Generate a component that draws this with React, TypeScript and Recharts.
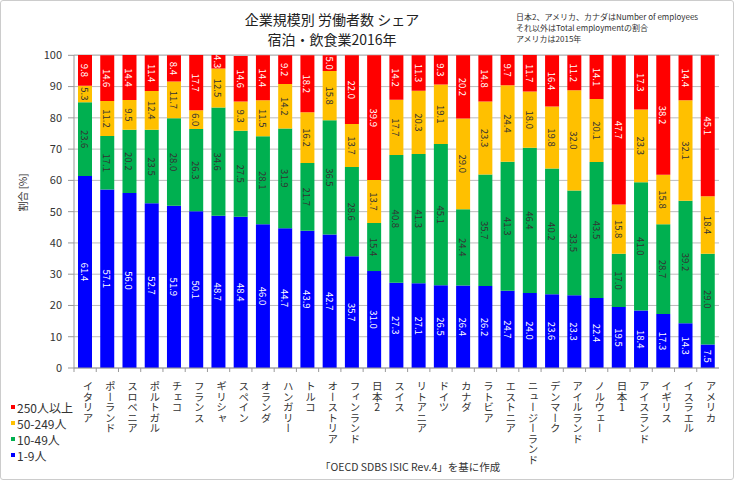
import React from 'react';
import { BarChart, Bar, XAxis, YAxis, CartesianGrid, LabelList } from 'recharts';

const countries = ['イタリア','ポーランド','スロベニア','ポルトガル','チェコ','フランス','ギリシャ','スペイン','オランダ','ハンガリー','トルコ','オーストリア','フィンランド','日本2','スイス','リトアニア','ドイツ','カナダ','ラトビア','エストニア','ニュージーランド','デンマーク','アイルランド','ノルウェー','日本1','アイスランド','イギリス','イスラエル','アメリカ'];
const s1to9 = [61.4,57.1,56.0,52.7,51.9,50.1,48.7,48.4,46.0,44.7,43.9,42.7,35.7,31.0,27.3,27.1,26.5,26.4,26.2,24.7,24.0,23.6,23.3,22.4,19.5,18.4,17.3,14.3,7.5];
const s10to49 = [23.6,17.1,20.2,23.5,28.0,26.3,34.6,27.5,28.1,31.9,21.7,36.5,28.6,15.4,40.8,41.3,45.1,24.4,35.7,41.3,46.4,40.2,33.5,43.5,17.0,41.0,28.7,39.2,29.0];
const s50to249 = [5.3,11.2,9.5,12.4,11.7,6.0,12.5,9.3,11.5,14.2,16.2,15.8,13.7,13.7,17.7,20.3,19.1,29.0,23.3,24.4,18.0,19.8,32.0,20.1,15.8,23.3,15.8,32.1,18.4];
const s250plus = [9.8,14.6,14.4,11.4,8.4,17.7,4.3,14.6,14.4,9.2,18.2,5.0,22.0,39.9,14.2,11.3,9.3,20.2,14.8,9.7,11.7,16.4,11.2,14.1,47.7,17.3,38.2,14.4,45.1];
const seriesNames = ['1-9人','10-49人','50-249人','250人以上'];
const yTicks = [0,10,20,30,40,50,60,70,80,90,100];

const colors = ['#0000FF','#00B050','#FFC000','#FF0000'];
const labelColors = ['#ffffff','#333333','#333333','#ffffff'];

const data = countries.map((c, i) => ({
  name: c,
  a: s1to9[i],
  b: s10to49[i],
  c: s50to249[i],
  d: s250plus[i],
}));

const FONT = '"Noto Sans CJK JP", "Noto Sans", sans-serif';
const CHART_W = 734;
const CHART_H = 480;
const X_H = 20;
const MARGIN = { top: 55, right: 16, bottom: 92, left: 0 };
const YW = 73;
const BAND = (CHART_W - MARGIN.right - MARGIN.left - YW) / countries.length;

const makeLabel = (color: string) => (props: any) => {
  const { x, y, width, height, value } = props;
  const cx = x + width / 2;
  const cy = y + height / 2;
  return (
    <text
      x={cx}
      y={cy}
      transform={`rotate(90, ${cx}, ${cy})`}
      textAnchor="middle"
      dominantBaseline="central"
      fontSize={9.5}
      fontFamily={FONT}
      fill={color}
    >
      {Number(value).toFixed(1)}
    </text>
  );
};

const XTick = (props: any) => {
  const { x, y, payload } = props;
  return (
    <g>
      <line x1={x - BAND / 2} x2={x - BAND / 2} y1={y - 8} y2={y - 4} stroke="#999" />
      <text
        x={x + 3}
        y={y + 5}
        fontSize={10.5}
        fontFamily={FONT}
        fill="#333"
        style={{ writingMode: 'vertical-rl', textOrientation: 'upright' } as any}
      >
        {payload.value}
      </text>
    </g>
  );
};

const legendItems = [3, 2, 1, 0];

export default function App() {
  return (
    <div
      style={{
        position: 'absolute',
        left: 0,
        top: 0,
        width: CHART_W,
        height: CHART_H,
        background: '#fff',
        border: '1px solid #ccc',
        boxSizing: 'border-box',
        borderRadius: 3,
        fontFamily: FONT,
        overflow: 'hidden',
      }}
    >
      <div style={{ position: 'absolute', left: 0, top: -1 }}>
        <BarChart width={CHART_W} height={CHART_H} data={data} margin={MARGIN} barCategoryGap="18%">
          <CartesianGrid vertical={false} stroke="#bbbbbb" />
          <XAxis
            dataKey="name"
            interval={0}
            tick={<XTick />}
            tickLine={false}
            axisLine={{ stroke: '#999' }}
            height={X_H}
          />
          <YAxis
            width={YW}
            domain={[0, 100]}
            ticks={yTicks}
            interval={0}
            tick={{ fontSize: 11, fill: '#333', fontFamily: FONT }}
            tickSize={6}
            tickMargin={6}
            tickLine={{ stroke: '#999' }}
            axisLine={{ stroke: '#999' }}
            label={{ value: '割合 [%]', angle: -90, position: 'insideLeft', offset: 22, fontSize: 10, fill: '#333', fontFamily: FONT }}
          />
          {(['a', 'b', 'c', 'd'] as const).map((k, i) => (
            <Bar key={k} dataKey={k} name={seriesNames[i]} stackId="s" fill={colors[i]} isAnimationActive={false}>
              <LabelList dataKey={k} content={makeLabel(labelColors[i])} />
            </Bar>
          ))}
        </BarChart>
      </div>
      <div style={{ position: 'absolute', left: 0, width: 662, top: 8, textAlign: 'center', fontSize: 14, lineHeight: '20px', color: '#222' }}>
        企業規模別 労働者数 シェア
        <br />
        宿泊・飲食業2016年
      </div>
      <div style={{ position: 'absolute', left: 515, top: 10, fontSize: 8, lineHeight: '11px', color: '#333', whiteSpace: 'nowrap' }}>
        日本2、アメリカ、カナダはNumber of employees
        <br />
        それ以外はTotal employmentの割合
        <br />
        アメリカは2015年
      </div>
      <div style={{ position: 'absolute', left: 10, top: 398 }}>
        {legendItems.map((i) => (
          <div key={i} style={{ display: 'flex', alignItems: 'center', height: 16, fontSize: 12, color: '#333' }}>
            <span style={{ display: 'inline-block', width: 4, height: 4, background: colors[i], marginRight: 2 }} />
            {seriesNames[i]}
          </div>
        ))}
      </div>
      <div style={{ position: 'absolute', left: 319, top: 458, fontSize: 10.5, color: '#333', whiteSpace: 'nowrap' }}>
        「OECD SDBS ISIC Rev.4」を基に作成
      </div>
    </div>
  );
}
